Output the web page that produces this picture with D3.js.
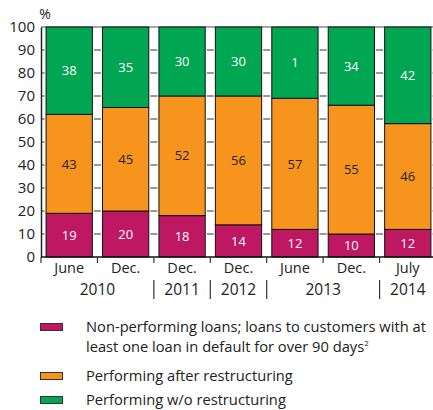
<!DOCTYPE html>
<html><head><meta charset="utf-8">
<script src="https://cdn.jsdelivr.net/npm/d3@7"></script>
<style>
body{margin:0;background:#fff}
svg{display:block}
text{font-family:"Open Sans",sans-serif}
</style>
</head><body>
<svg id="chart" width="433" height="410"></svg>
<script>
// ---- data ----
const categories = ["June","Dec.","Dec.","Dec.","June","Dec.","July"];
const yearLabels = ["2010","2011","2012","2013","2014"];
const yearSpans = [2,1,1,2,1];
// segment heights
const nonPerforming = [19,20,18,14,12,10,12];
const performingAfter = [43,45,52,56,57,56,46];
const performingWithout = [38,35,30,30,31,34,42];
// printed labels
const nonPerformingLabels = ["19","20","18","14","12","10","12"];
const performingAfterLabels = ["43","45","52","56","57","55","46"];
const performingWithoutLabels = ["38","35","30","30","1","34","42"];
const yTicks = [0,10,20,30,40,50,60,70,80,90,100];
const seriesNames = [
  ["Non-performing loans; loans to customers with at", "least one loan in default for over 90 days"],
  ["Performing after restructuring"],
  ["Performing w/o restructuring"]
];
const colors = ["#BE1862","#F7941E","#00A651"];
const labelColors = ["#fff","#222","#fff"];

// ---- build table ----
const keys = ["np","pa","pw"];
const table = categories.map((c,i)=>({i, np:nonPerforming[i], pa:performingAfter[i], pw:performingWithout[i]}));
const labelSets = [nonPerformingLabels, performingAfterLabels, performingWithoutLabels];

const svg = d3.select("#chart");
const x = d3.scaleBand().domain(d3.range(categories.length)).range([41,436]).paddingInner(0.18).paddingOuter(0.09);
const y = d3.scaleLinear().domain([0,100]).range([257,27]);
const step = x.step();
const x0 = x.range()[0];
const boundaries = d3.range(categories.length+1).map(k=>x0+k*step);

// inner ticks at category boundaries (behind bars)
const tg = svg.append("g");
boundaries.forEach((b,k)=>{
  yTicks.filter(v=>v>0 && v<100).forEach(v=>{
    tg.append("line").attr("x1", Math.max(41,b-3.5)).attr("x2", b+3.5)
      .attr("y1", y(v)).attr("y2", y(v)).attr("stroke","#555").attr("stroke-width",1.2);
  });
});

// top frame line
svg.append("line").attr("x1",41).attr("x2",433).attr("y1",y(100)).attr("y2",y(100))
  .attr("stroke","#8a8a8a").attr("stroke-width",1.6);

// bars
const stacked = d3.stack().keys(keys)(table);
stacked.forEach((s,si)=>{
  const g = svg.append("g");
  g.selectAll("rect").data(s).join("rect")
    .attr("x", d=>x(d.data.i)).attr("width", x.bandwidth())
    .attr("y", d=>y(d[1])).attr("height", d=>y(d[0])-y(d[1]))
    .attr("fill", colors[si]).attr("stroke","#111").attr("stroke-width",1);
  g.selectAll("text").data(s).join("text")
    .attr("x", d=>x(d.data.i)+x.bandwidth()/2)
    .attr("y", d=>(y(d[0])+y(d[1]))/2)
    .attr("dy","0.36em").attr("text-anchor","middle")
    .attr("font-size",13).attr("fill",labelColors[si])
    .text((d,j)=>labelSets[si][j]);
});

// y axis
const yAxis = d3.axisLeft(y).tickValues(yTicks).tickSize(0).tickPadding(6).tickSizeOuter(0);
const ya = svg.append("g").attr("transform","translate(41,0)").call(yAxis);
ya.select(".domain").attr("stroke","#222").attr("stroke-width",1.5);
ya.selectAll("text").attr("font-size",15).attr("fill","#222").attr("font-family","Open Sans, sans-serif");
svg.append("text").attr("x",45).attr("y",19).attr("text-anchor","middle").attr("font-size",14).attr("fill","#222").text("%");

// x axis baseline
svg.append("line").attr("x1",41).attr("x2",433).attr("y1",y(0)).attr("y2",y(0)).attr("stroke","#111").attr("stroke-width",1.5);
boundaries.forEach(b=>{
  svg.append("line").attr("x1",b).attr("x2",b).attr("y1",y(0)).attr("y2",y(0)+6).attr("stroke","#333").attr("stroke-width",1.2);
});
svg.append("g").selectAll("text").data(categories).join("text")
  .attr("x",(d,i)=>x(i)+x.bandwidth()/2).attr("y",273)
  .attr("text-anchor","middle").attr("font-size",14.5).attr("fill","#222").text(d=>d);

// years
let idx = 0;
yearLabels.forEach((yl,k)=>{
  const a = boundaries[idx], b = boundaries[idx+yearSpans[k]];
  svg.append("text").attr("x",(a+b)/2).attr("y",295).attr("text-anchor","middle")
    .attr("font-size",15.5).attr("fill","#222").text(yl);
  if (k>0) svg.append("line").attr("x1",a).attr("x2",a).attr("y1",280).attr("y2",299).attr("stroke","#333").attr("stroke-width",1.2);
  idx += yearSpans[k];
});

// legend
const legY = [327,376,400];
seriesNames.forEach((lines,si)=>{
  svg.append("rect").attr("x",40.5).attr("y",legY[si]-3.5).attr("width",22).attr("height",7)
    .attr("fill",colors[si]).attr("stroke","#333").attr("stroke-width",1);
  lines.forEach((ln,li)=>{
    const t = svg.append("text").attr("x",86).attr("y",legY[si]+5+li*20).attr("font-size",14.7).attr("fill","#222").text(ln);
    if (si===0 && li===1) t.append("tspan").attr("font-size",8).attr("dy",-6).text("2");
  });
});
</script>
</body></html>
